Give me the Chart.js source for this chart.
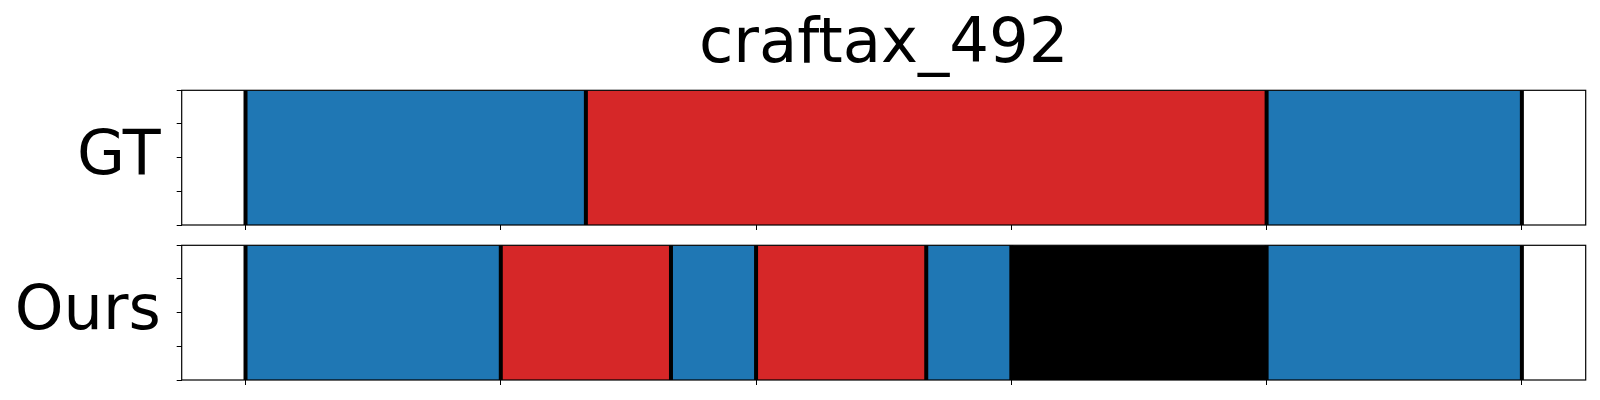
<!DOCTYPE html>
<html>
<head>
<meta charset="utf-8">
<script src="https://cdn.jsdelivr.net/npm/chart.js@4/dist/chart.umd.min.js"></script>
<style>
  body { margin: 0; background: #fff; }
  canvas { position: absolute; left: 0; }
  #gtChart { top: 0; }
  #oursChart { top: 235px; }
</style>
</head>
<body>
<canvas id="gtChart" width="1600" height="235"></canvas>
<canvas id="oursChart" width="1600" height="155"></canvas>
<script>
// segment boundaries (frame index) and class per segment
const title = "craftax_492";
const rowLabels = ["GT", "Ours"];
const frameTicks = [0, 3, 6, 9, 12, 15];
const rowTicks = [0, 0.25, 0.5, 0.75, 1];

const gtBounds = [0, 4, 12, 15];
const gtClasses = [0, 1, 0];

const oursBounds = [0, 3, 5, 6, 8, 9, 12, 15];
const oursClasses = [0, 1, 0, 1, 0, 2, 0];

const classColors = ["#1f77b4", "#d62728", "#000000"];

const frame = {
  id: "frame",
  afterDraw(chart) {
    const a = chart.chartArea;
    const ctx = chart.ctx;
    ctx.save();
    ctx.strokeStyle = "#000";
    ctx.lineWidth = 1.2;
    ctx.strokeRect(a.left, a.top, a.right - a.left, a.bottom - a.top);
    ctx.restore();
  }
};

function buildDatasets(bounds, classes) {
  const sets = [];
  // black separators at every boundary
  bounds.forEach(b => {
    sets.push({
      data: [{ x: b, y: 0 }, { x: b, y: 1 }],
      borderColor: "#000", borderWidth: 4, pointRadius: 0, fill: false, order: 0
    });
  });
  classes.forEach((c, i) => {
    sets.push({
      data: [{ x: bounds[i], y: 1 }, { x: bounds[i + 1], y: 1 }],
      borderWidth: 0, pointRadius: 0,
      backgroundColor: classColors[c], fill: "origin", order: 1
    });
  });
  return sets;
}

function makeChart(id, label, bounds, classes, withTitle, padTop) {
  return new Chart(document.getElementById(id), {
    type: "line",
    data: { datasets: buildDatasets(bounds, classes) },
    options: {
      responsive: false,
      animation: false,
      layout: { padding: { left: 0, right: 14.3, top: padTop, bottom: 0 } },
      plugins: {
        legend: { display: false },
        tooltip: { enabled: false },
        title: {
          display: withTitle,
          fullSize: false,
          text: title,
          color: "#000",
          font: { family: "DejaVu Sans", size: 62.5, weight: "normal", lineHeight: 1.2 },
          padding: { top: 8, bottom: 7.3 }
        }
      },
      scales: {
        x: {
          type: "linear",
          min: -0.75, max: 15.75,
          afterBuildTicks: s => { s.ticks = frameTicks.map(v => ({ value: v })); },
          afterFit: s => { s.height = 10; s.paddingLeft = 0; s.paddingRight = 0; },
          border: { display: false },
          grid: { drawOnChartArea: false, drawTicks: true, tickLength: 5, color: "#000", lineWidth: 1 },
          ticks: { display: false }
        },
        y: {
          type: "linear",
          min: 0, max: 1,
          afterBuildTicks: s => { s.ticks = rowTicks.map(v => ({ value: v })); },
          afterFit: s => { s.width = 181.7; s.paddingTop = 0; s.paddingBottom = 0; },
          border: { display: false },
          grid: { drawOnChartArea: false, drawTicks: true, tickLength: 5, color: "#000", lineWidth: 1 },
          ticks: {
            autoSkip: false,
            padding: 16,
            color: "#000",
            font: { family: "DejaVu Sans", size: 62 },
            callback: v => (v === 0.5 ? label : "")
          }
        }
      }
    },
    plugins: [frame]
  });
}

makeChart("gtChart", rowLabels[0], gtBounds, gtClasses, true, 0);
makeChart("oursChart", rowLabels[1], oursBounds, oursClasses, false, 10.3);
</script>
</body>
</html>
